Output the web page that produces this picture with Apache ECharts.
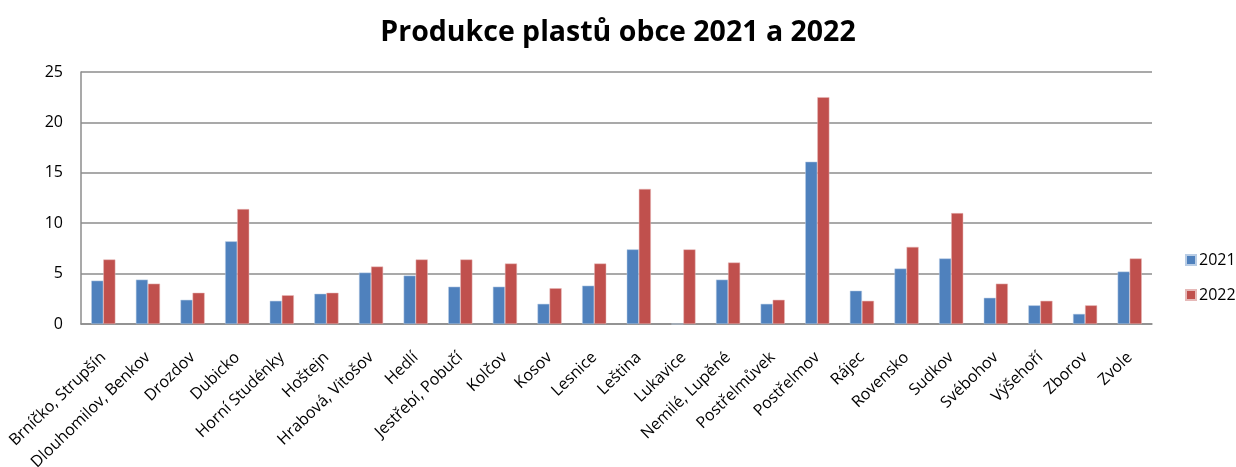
<!DOCTYPE html>
<html>
<head>
<meta charset="utf-8">
<script src="https://cdn.jsdelivr.net/npm/echarts@6/dist/echarts.min.js"></script>
<style>
html,body{margin:0;padding:0;background:#fff;}
#chart{width:1236px;height:467px;}
</style>
</head>
<body>
<div id="chart"></div>
<script>
const categories = ["Brníčko, Strupšín","Dlouhomilov, Benkov","Drozdov","Dubicko","Horní Studénky","Hoštejn","Hrabová, Vitošov","Hedlí","Jestřebí, Pobučí","Kolčov","Kosov","Lesnice","Leština","Lukavice","Nemilé, Lupěné","Postřelmůvek","Postřelmov","Rájec","Rovensko","Sudkov","Svébohov","Výšehoří","Zborov","Zvole"];
const values2021 = [4.3,4.4,2.4,8.2,2.3,3.0,5.1,4.8,3.7,3.7,2.0,3.8,7.4,0,4.4,2.0,16.1,3.3,5.5,6.5,2.6,1.85,1.0,5.2];
const values2022 = [6.4,4.0,3.1,11.4,2.85,3.1,5.7,6.4,6.4,6.0,3.55,6.0,13.4,7.4,6.1,2.4,22.5,2.3,7.65,11.0,4.0,2.3,1.85,6.5];
const yTicks = [0,5,10,15,20,25];
const seriesNames = ["2021","2022"];

const chart = echarts.init(document.getElementById('chart'));
const font = '"Open Sans", sans-serif';
chart.setOption({
  animation:false,
  title:{
    text:'Produkce plastů obce 2021 a 2022',
    left:'center', top:13,
    textStyle:{fontFamily:font,fontSize:28.5,fontWeight:'bold',color:'#000'}
  },
  legend:{
    orient:'vertical', left:1180, top:247,
    itemWidth:10, itemHeight:10, itemGap:19,
    icon:'rect',
    textStyle:{fontFamily:font,fontSize:16,color:'#000',padding:[0,0,0,-2]},
    data:seriesNames
  },
  grid:{left:81,right:84,top:72,bottom:143,containLabel:false,outerBoundsMode:'none'},
  xAxis:{
    type:'category', data:categories,
    axisLine:{lineStyle:{color:'#8c8c8c',width:1.5}},
    axisTick:{show:false},
    axisLabel:{rotate:44,interval:0,fontFamily:font,fontSize:16,color:'#000',margin:31}
  },
  yAxis:{
    type:'value', min:yTicks[0], max:yTicks[yTicks.length-1], interval:5,
    axisLine:{show:true,lineStyle:{color:'#8c8c8c',width:1.5}},
    axisTick:{show:false},
    splitLine:{lineStyle:{color:'#8c8c8c',width:1.5}},
    axisLabel:{fontFamily:font,fontSize:16,color:'#000',margin:18}
  },
  series:[
    {name:seriesNames[0],type:'bar',data:values2021,barGap:'0%',barCategoryGap:'46%',
     itemStyle:{color:'#4F81BD',borderColor:'#b9cde5',borderWidth:0.5}},
    {name:seriesNames[1],type:'bar',data:values2022,barGap:'0%',barCategoryGap:'46%',
     itemStyle:{color:'#C0504D',borderColor:'#e6b9b8',borderWidth:0.5}}
  ]
});
</script>
</body>
</html>
